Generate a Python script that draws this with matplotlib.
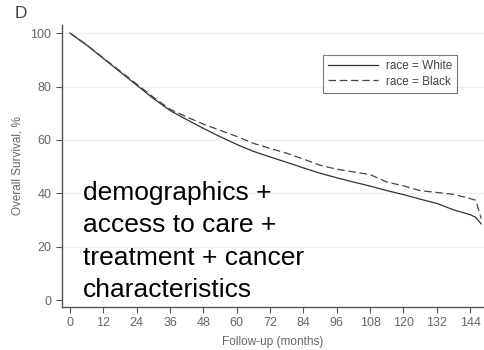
import matplotlib
matplotlib.use("Agg")
import matplotlib.pyplot as plt

plt.rcParams['font.family'] = ['Liberation Sans', 'DejaVu Sans']

months = [0, 6, 12, 18, 24, 30, 36, 42, 48, 54, 60, 66, 72, 78, 84, 90, 96, 102,
          108, 114, 120, 126, 132, 138, 144, 146, 148]
white = [100, 95.5, 90.5, 85.5, 80.5, 75.5, 71.0, 67.6, 64.3, 61.2, 58.3, 55.7,
         53.6, 51.6, 49.5, 47.5, 45.8, 44.2, 42.7, 41.0, 39.5, 37.8, 36.2, 33.8,
         32.0, 31.0, 28.5]
black = [100, 95.6, 90.7, 85.8, 80.9, 76.0, 71.5, 68.6, 65.9, 63.6, 61.3, 58.7,
         56.8, 55.0, 52.8, 50.5, 49.0, 48.0, 47.0, 44.2, 42.8, 41.0, 40.3, 39.6,
         38.0, 37.4, 30.5]
xticks = list(range(0, 145, 12))
yticks = [0, 20, 40, 60, 80, 100]
note_lines = ['demographics +', 'access to care +', 'treatment + cancer',
              'characteristics']

fig = plt.figure(figsize=(4.84, 3.5), dpi=100)
ax = fig.add_axes([0.128, 0.123, 0.872, 0.806])

for y in yticks[1:]:
    ax.axhline(y, color='#eeeeee', lw=0.8, zorder=0)

ax.plot(months, white, color='#333333', lw=0.9, label='race = White')
ax.plot(months, black, color='#444444', lw=0.9, dashes=(6, 3), label='race = Black')

ax.set_xlim(-2.9, 149)
ax.set_ylim(-2.6, 103.1)
ax.set_xticks(xticks)
ax.set_yticks(yticks)
for s in ['top', 'right']:
    ax.spines[s].set_visible(False)
for s in ['left', 'bottom']:
    ax.spines[s].set_color('#555555')
    ax.spines[s].set_linewidth(1.0)
ax.tick_params(direction='out', length=4, width=0.8, color='#555555',
               labelcolor='#666666', labelsize=9)
ax.set_xlabel('Follow-up (months)', fontsize=8.5, color='#666666', labelpad=5)
ax.set_ylabel('Overall Survival, %', fontsize=8.5, color='#666666', labelpad=5)

leg = ax.legend(loc='upper left', bbox_to_anchor=(0.604, 0.915), fontsize=8.5,
                frameon=True, fancybox=False, handlelength=4.2,
                borderpad=0.45, labelspacing=0.3, handletextpad=0.7)
leg.get_frame().set_edgecolor('#555555')
leg.get_frame().set_linewidth(0.8)
for t in leg.get_texts():
    t.set_color('#444444')

baselines = [200, 232, 265, 297]
for line, b in zip(note_lines, baselines):
    fig.text(83 / 484, 1 - b / 350, line, fontsize=19, color='black',
             ha='left', va='baseline')
fig.text(15 / 484, 1 - 14 / 350, 'D', fontsize=12.5, color='#444444',
         ha='left', va='center')

fig.savefig('out.png', dpi=100)
